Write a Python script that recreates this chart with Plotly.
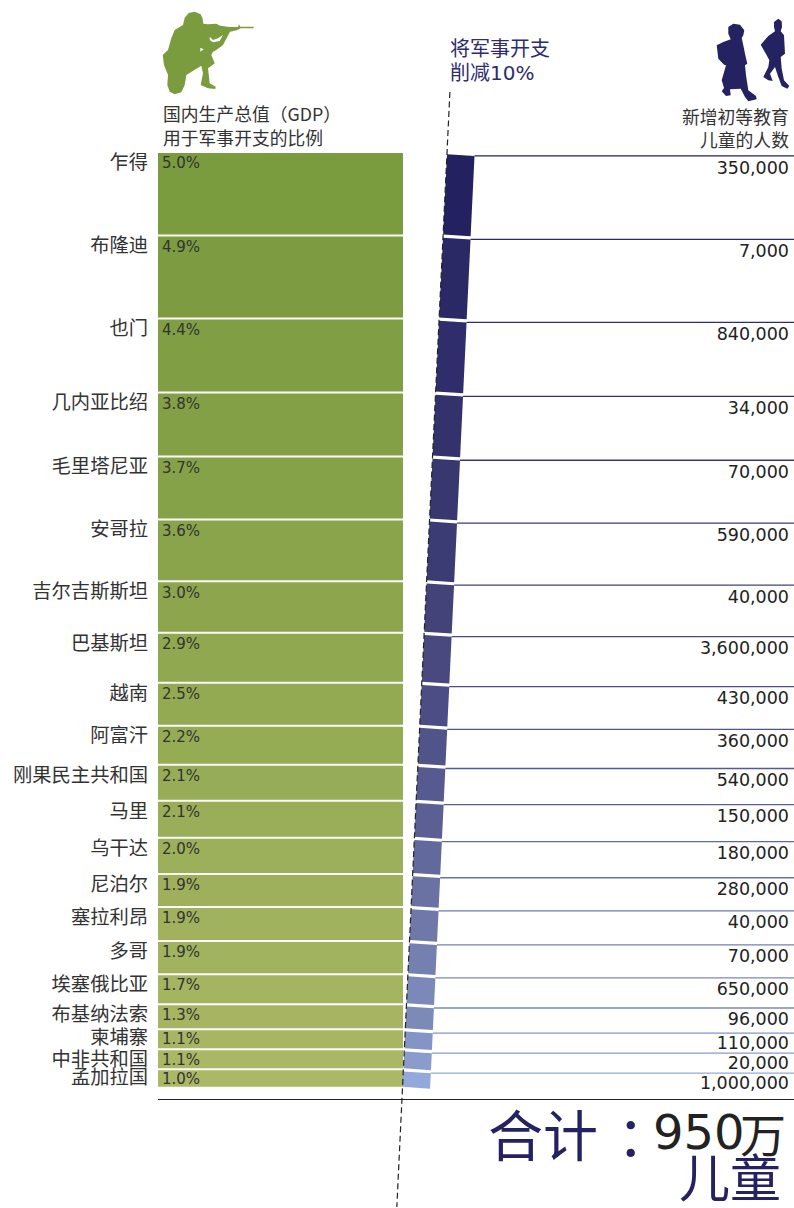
import plotly.graph_objects as go

countries = ["乍得","布隆迪","也门","几内亚比绍","毛里塔尼亚","安哥拉","吉尔吉斯斯坦","巴基斯坦","越南","阿富汗",
             "刚果民主共和国","马里","乌干达","尼泊尔","塞拉利昂","多哥","埃塞俄比亚","布基纳法索","柬埔寨","中非共和国","孟加拉国"]
gdp_labels = ["5.0%","4.9%","4.4%","3.8%","3.7%","3.6%","3.0%","2.9%","2.5%","2.2%","2.1%","2.1%","2.0%","1.9%","1.9%","1.9%","1.7%","1.3%","1.1%","1.1%","1.0%"]
# row thickness as drawn, in % of GDP units
gdp_drawn = [5.00,4.97,4.43,3.83,3.77,3.71,3.08,2.99,2.57,2.34,2.16,2.22,2.16,1.98,2.04,1.98,1.80,1.50,1.20,1.20,1.11]
children = ["350,000","7,000","840,000","34,000","70,000","590,000","40,000","3,600,000","430,000","360,000","540,000",
            "150,000","180,000","280,000","40,000","70,000","650,000","96,000","110,000","20,000","1,000,000"]
blues = ["#242161","#2b2866","#2f2d6b","#33326d","#383770","#3c3c75","#434379","#49497f","#4c4d84","#505488","#565a90",
         "#5b5f94","#62699c","#6a71a3","#6f78a9","#7480b0","#7b88b8","#7c8ab8","#8494c4","#8a9ccc","#93a9db"]

W, H = 794, 1208
PX = 16.7          # pixels per % of GDP
TOP = 153
Y0 = -TOP / PX
Y1 = (H - TOP) / PX
GAP = 2 / PX
LATIN = "DejaVu Sans, Noto Sans CJK SC"
CJK = "Noto Sans CJK SC, sans-serif"
NAVY = "#252262"; DARK = "#333333"

def lerp(a, b, t):
    a = [int(a[i:i+2], 16) for i in (1, 3, 5)]
    b = [int(b[i:i+2], 16) for i in (1, 3, 5)]
    return "#%02x%02x%02x" % tuple(round(p + (q - p) * t) for p, q in zip(a, b))

n = len(countries)
tops = []
c = 0.0
for v in gdp_drawn:
    tops.append(c)
    c += v
greens = [lerp("#7b9b3f", "#abb866", (tops[i] / tops[-1]) ** 1.3) for i in range(n)]
# fine vertical placement of the row texts, pixels
label_dy = [11] * 17 + [11, 8.8, 11, 8.8]
pct_dy = [11.5] * 17 + [11.5, 9.5, 10.5, 9.5]
value_dy = [16.5] * 7 + [15.5] * 11 + [14.5] * 3

fig = go.Figure()
fig.add_trace(go.Bar(x=[280.5] * n, y=[v - GAP for v in gdp_drawn], base=tops, width=245,
                     marker=dict(color=greens, line=dict(width=0)), hoverinfo="skip"))

def edge_x(u):   # left edge of navy band, on the dashed 'cut' line
    return 447 - 0.0476 * (u * PX)

for i in range(n):
    t, b = tops[i], tops[i] + gdp_drawn[i] - GAP
    w = 27.5
    xs = [edge_x(t), edge_x(t) + w, edge_x(b) + w, edge_x(b), edge_x(t)]
    d1, d2 = 1.2 / PX, 3 / PX
    ys = [t + d1, t + d2, b + d2 - d1, b, t + d1]
    fig.add_trace(go.Scatter(x=xs, y=ys, mode="lines", fill="toself", fillcolor=blues[i],
                             line=dict(width=0), hoverinfo="skip"))
    fig.add_trace(go.Scatter(x=[edge_x(t) + w, W], y=[t + 2.8 / PX] * 2, mode="lines",
                             line=dict(color=blues[i], width=1.3), hoverinfo="skip"))

# dashed line and bottom rule
fig.add_trace(go.Scatter(x=[edge_x(-61 / PX), edge_x(1054 / PX)], y=[-61 / PX, 1054 / PX], mode="lines",
                         line=dict(color="#222222", width=1.2, dash="6px,3.5px"), hoverinfo="skip"))
fig.add_trace(go.Scatter(x=[158, W], y=[946.5 / PX] * 2, mode="lines",
                         line=dict(color="#222222", width=1), hoverinfo="skip"))

# row labels
fig.add_trace(go.Scatter(x=[148] * n, y=[t + d / PX for t, d in zip(tops, label_dy)], text=countries, mode="text",
                         textposition="middle left", textfont=dict(family=CJK, size=19.3, color=DARK), hoverinfo="skip"))
fig.add_trace(go.Scatter(x=[162] * n, y=[t + d / PX for t, d in zip(tops, pct_dy)], text=gdp_labels, mode="text",
                         textposition="middle right", textfont=dict(family=LATIN, size=15, color=DARK), hoverinfo="skip"))
fig.add_trace(go.Scatter(x=[789] * n, y=[t + d / PX for t, d in zip(tops, value_dy)], text=children, mode="text",
                         textposition="middle left", textfont=dict(family=LATIN, size=17.5, color="#222222"), hoverinfo="skip"))

def to_path(pts, ox, oy):
    return "M" + " L".join(f"{ox + x / 3:.1f},{(oy + y / 3 - TOP) / PX:.3f}" for x, y in pts) + " Z"

soldier = [(80,38),(92,24),(110,20),(128,28),(134,42),(136,56),(150,58),(175,56),(186,62),(215,66),(240,66),(243,58),(247,65),(287,65),(287,70),(248,70),(236,76),(216,80),(208,96),(195,120),(175,135),(165,140),(160,150),(170,175),(150,190),(155,235),(173,245),(172,252),(150,250),(128,240),(135,205),(130,182),(85,210),(80,240),(70,262),(50,268),(35,260),(28,240),(30,210),(18,180),(14,150),(30,135),(40,100),(50,75),(75,60)]
soldier_hole1 = [(155,95),(165,105),(180,100),(195,90),(185,108),(165,112),(155,105)]
soldier_hole2 = [(127,128),(137,133),(127,140)]
girl = [(55,45),(70,35),(90,38),(103,55),(100,70),(95,78),(100,100),(105,125),(112,155),(105,160),(108,190),(115,235),(138,252),(140,262),(115,268),(105,255),(92,230),(60,232),(62,250),(48,252),(35,238),(42,228),(35,205),(48,160),(42,158),(25,140),(20,100),(40,90),(62,82),(55,65)]
boy = [(192,30),(205,20),(215,28),(216,45),(212,58),(222,70),(225,125),(212,135),(215,170),(222,205),(238,222),(232,230),(215,222),(205,195),(195,165),(180,185),(188,207),(175,205),(160,195),(175,165),(178,145),(170,130),(152,98),(175,72),(195,58),(192,45)]
shapes = [
    dict(type="path", xref="x", yref="y", line_width=0, fillcolor="#7b9b3f",
         path=to_path(soldier, 158, 5) + " " + to_path(soldier_hole1, 158, 5) + " " + to_path(soldier_hole2, 158, 5)),
    dict(type="path", xref="x", yref="y", line_width=0, fillcolor=NAVY,
         path=to_path(girl, 710, 12) + " " + to_path(boy, 710, 12)),
]

def note(text, x, y, anchor="left", size=17.8, color=DARK, family=CJK):
    return dict(text=text, x=x, y=(y - TOP) / PX, xref="x", yref="y", xanchor=anchor, yanchor="middle",
                showarrow=False, align=anchor, font=dict(family=family, size=size, color=color))

anns = [
    note("国内生产总值（GDP）", 161, 113),
    note("用于军事开支的比例", 161, 137),
    note("新增初等教育", 791, 116, "right"),
    note("儿童的人数", 791, 139, "right"),
    note("将军事开支", 448, 47, size=20, color="#2e2c6c"),
    note("削减10%", 448, 73, size=20, color="#2e2c6c", family=LATIN),
    note("合计", 486, 1132, size=55, color=NAVY),
    note("：", 615, 1132, size=55, color=NAVY),
    note("950", 651, 1132, size=48, color="#222222", family=LATIN),
    note("万", 788, 1132, "right", size=46, color="#222222"),
    note("儿童", 783, 1174.5, "right", size=51, color=NAVY),
]

fig.update_layout(width=W, height=H, margin=dict(l=0, r=0, t=0, b=0), showlegend=False, autosize=False,
                  paper_bgcolor="white", plot_bgcolor="white", barmode="overlay", shapes=shapes, annotations=anns,
                  xaxis=dict(range=[0, W], visible=False, fixedrange=True),
                  yaxis=dict(range=[Y1, Y0], visible=False, fixedrange=True))
fig.write_html("out.html", config={"displayModeBar": False},
               post_script="document.body.style.margin='0';document.documentElement.style.overflow='hidden';")
